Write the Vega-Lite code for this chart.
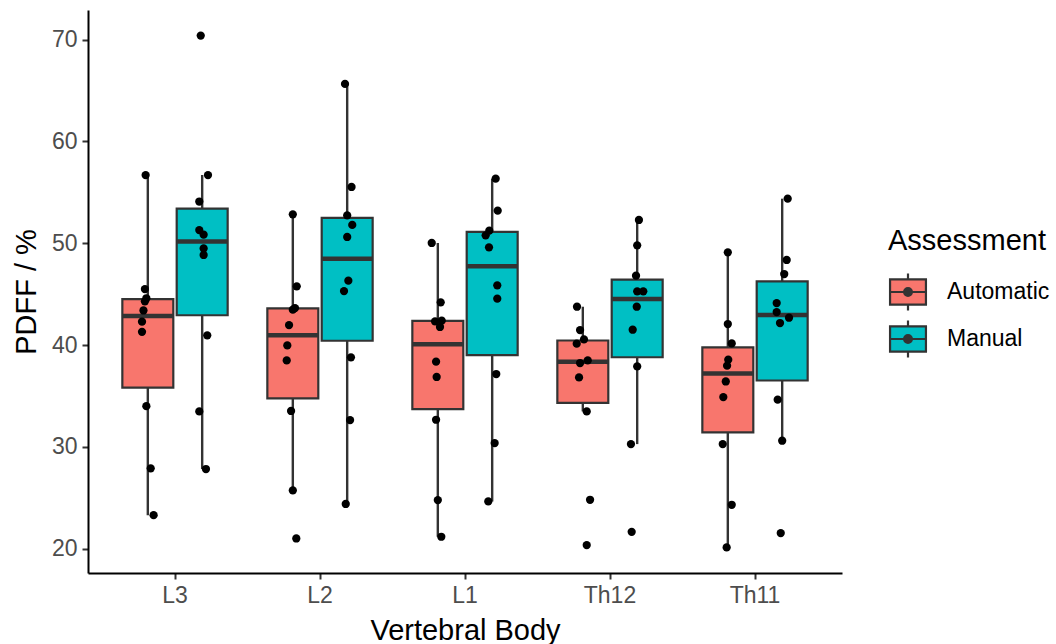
{
  "$schema": "https://vega.github.io/schema/vega-lite/v6.json",
  "width": 754,
  "height": 563,
  "autosize": {"type": "none"},
  "padding": {"left": 88, "top": 10, "right": 214, "bottom": 71},
  "background": "white",
  "data": {"values": [
    {"Vertebra": "L3", "Assessment": "Automatic", "PDFF": 56.7, "jitter": -0.015},
    {"Vertebra": "L3", "Assessment": "Automatic", "PDFF": 45.5, "jitter": -0.02},
    {"Vertebra": "L3", "Assessment": "Automatic", "PDFF": 44.6, "jitter": -0.01},
    {"Vertebra": "L3", "Assessment": "Automatic", "PDFF": 44.3, "jitter": -0.02},
    {"Vertebra": "L3", "Assessment": "Automatic", "PDFF": 43.4, "jitter": -0.03},
    {"Vertebra": "L3", "Assessment": "Automatic", "PDFF": 42.3, "jitter": -0.04},
    {"Vertebra": "L3", "Assessment": "Automatic", "PDFF": 41.3, "jitter": -0.04},
    {"Vertebra": "L3", "Assessment": "Automatic", "PDFF": 34.0, "jitter": -0.01},
    {"Vertebra": "L3", "Assessment": "Automatic", "PDFF": 27.9, "jitter": 0.02},
    {"Vertebra": "L3", "Assessment": "Automatic", "PDFF": 23.3, "jitter": 0.04},
    {"Vertebra": "L3", "Assessment": "Manual", "PDFF": 70.4, "jitter": -0.01},
    {"Vertebra": "L3", "Assessment": "Manual", "PDFF": 56.7, "jitter": 0.04},
    {"Vertebra": "L3", "Assessment": "Manual", "PDFF": 54.1, "jitter": -0.02},
    {"Vertebra": "L3", "Assessment": "Manual", "PDFF": 51.3, "jitter": -0.02},
    {"Vertebra": "L3", "Assessment": "Manual", "PDFF": 50.85, "jitter": 0.01},
    {"Vertebra": "L3", "Assessment": "Manual", "PDFF": 49.5, "jitter": 0.01},
    {"Vertebra": "L3", "Assessment": "Manual", "PDFF": 48.85, "jitter": 0.01},
    {"Vertebra": "L3", "Assessment": "Manual", "PDFF": 40.96, "jitter": 0.035},
    {"Vertebra": "L3", "Assessment": "Manual", "PDFF": 33.49, "jitter": -0.02},
    {"Vertebra": "L3", "Assessment": "Manual", "PDFF": 27.83, "jitter": 0.026},
    {"Vertebra": "L2", "Assessment": "Automatic", "PDFF": 52.84, "jitter": 0.0},
    {"Vertebra": "L2", "Assessment": "Automatic", "PDFF": 45.77, "jitter": 0.027},
    {"Vertebra": "L2", "Assessment": "Automatic", "PDFF": 43.64, "jitter": 0.015},
    {"Vertebra": "L2", "Assessment": "Automatic", "PDFF": 43.48, "jitter": 0.0},
    {"Vertebra": "L2", "Assessment": "Automatic", "PDFF": 41.97, "jitter": -0.026},
    {"Vertebra": "L2", "Assessment": "Automatic", "PDFF": 39.97, "jitter": -0.038},
    {"Vertebra": "L2", "Assessment": "Automatic", "PDFF": 38.5, "jitter": -0.042},
    {"Vertebra": "L2", "Assessment": "Automatic", "PDFF": 33.53, "jitter": -0.012},
    {"Vertebra": "L2", "Assessment": "Automatic", "PDFF": 25.73, "jitter": 0.0},
    {"Vertebra": "L2", "Assessment": "Automatic", "PDFF": 21.01, "jitter": 0.024},
    {"Vertebra": "L2", "Assessment": "Manual", "PDFF": 65.65, "jitter": -0.015},
    {"Vertebra": "L2", "Assessment": "Manual", "PDFF": 55.53, "jitter": 0.03},
    {"Vertebra": "L2", "Assessment": "Manual", "PDFF": 52.74, "jitter": 0.0},
    {"Vertebra": "L2", "Assessment": "Manual", "PDFF": 51.8, "jitter": 0.035},
    {"Vertebra": "L2", "Assessment": "Manual", "PDFF": 50.62, "jitter": 0.0},
    {"Vertebra": "L2", "Assessment": "Manual", "PDFF": 46.33, "jitter": 0.008},
    {"Vertebra": "L2", "Assessment": "Manual", "PDFF": 45.31, "jitter": -0.022},
    {"Vertebra": "L2", "Assessment": "Manual", "PDFF": 38.8, "jitter": 0.026},
    {"Vertebra": "L2", "Assessment": "Manual", "PDFF": 32.64, "jitter": 0.02},
    {"Vertebra": "L2", "Assessment": "Manual", "PDFF": 24.4, "jitter": -0.01},
    {"Vertebra": "L1", "Assessment": "Automatic", "PDFF": 50.03, "jitter": -0.042},
    {"Vertebra": "L1", "Assessment": "Automatic", "PDFF": 44.2, "jitter": 0.02},
    {"Vertebra": "L1", "Assessment": "Automatic", "PDFF": 42.33, "jitter": -0.019},
    {"Vertebra": "L1", "Assessment": "Automatic", "PDFF": 42.4, "jitter": 0.027},
    {"Vertebra": "L1", "Assessment": "Automatic", "PDFF": 41.78, "jitter": 0.015},
    {"Vertebra": "L1", "Assessment": "Automatic", "PDFF": 38.37, "jitter": -0.012},
    {"Vertebra": "L1", "Assessment": "Automatic", "PDFF": 36.87, "jitter": -0.008},
    {"Vertebra": "L1", "Assessment": "Automatic", "PDFF": 32.67, "jitter": -0.012},
    {"Vertebra": "L1", "Assessment": "Automatic", "PDFF": 24.78, "jitter": 0.0},
    {"Vertebra": "L1", "Assessment": "Automatic", "PDFF": 21.18, "jitter": 0.024},
    {"Vertebra": "L1", "Assessment": "Manual", "PDFF": 56.35, "jitter": 0.024},
    {"Vertebra": "L1", "Assessment": "Manual", "PDFF": 53.2, "jitter": 0.038},
    {"Vertebra": "L1", "Assessment": "Manual", "PDFF": 51.24, "jitter": -0.02},
    {"Vertebra": "L1", "Assessment": "Manual", "PDFF": 50.78, "jitter": -0.045},
    {"Vertebra": "L1", "Assessment": "Manual", "PDFF": 49.6, "jitter": -0.022},
    {"Vertebra": "L1", "Assessment": "Manual", "PDFF": 45.87, "jitter": 0.035},
    {"Vertebra": "L1", "Assessment": "Manual", "PDFF": 44.56, "jitter": 0.035},
    {"Vertebra": "L1", "Assessment": "Manual", "PDFF": 37.16, "jitter": 0.028},
    {"Vertebra": "L1", "Assessment": "Manual", "PDFF": 30.38, "jitter": 0.017},
    {"Vertebra": "L1", "Assessment": "Manual", "PDFF": 24.65, "jitter": -0.027},
    {"Vertebra": "Th12", "Assessment": "Automatic", "PDFF": 43.77, "jitter": -0.04},
    {"Vertebra": "Th12", "Assessment": "Automatic", "PDFF": 41.48, "jitter": -0.019},
    {"Vertebra": "Th12", "Assessment": "Automatic", "PDFF": 40.56, "jitter": 0.008},
    {"Vertebra": "Th12", "Assessment": "Automatic", "PDFF": 40.14, "jitter": -0.042},
    {"Vertebra": "Th12", "Assessment": "Automatic", "PDFF": 38.24, "jitter": -0.019},
    {"Vertebra": "Th12", "Assessment": "Automatic", "PDFF": 38.5, "jitter": 0.034},
    {"Vertebra": "Th12", "Assessment": "Automatic", "PDFF": 36.83, "jitter": -0.026},
    {"Vertebra": "Th12", "Assessment": "Automatic", "PDFF": 33.49, "jitter": 0.027},
    {"Vertebra": "Th12", "Assessment": "Automatic", "PDFF": 24.81, "jitter": 0.05},
    {"Vertebra": "Th12", "Assessment": "Automatic", "PDFF": 20.36, "jitter": 0.027},
    {"Vertebra": "Th12", "Assessment": "Manual", "PDFF": 52.29, "jitter": 0.012},
    {"Vertebra": "Th12", "Assessment": "Manual", "PDFF": 49.8, "jitter": 0.0},
    {"Vertebra": "Th12", "Assessment": "Manual", "PDFF": 46.82, "jitter": -0.008},
    {"Vertebra": "Th12", "Assessment": "Manual", "PDFF": 45.28, "jitter": 0.0},
    {"Vertebra": "Th12", "Assessment": "Manual", "PDFF": 45.28, "jitter": 0.042},
    {"Vertebra": "Th12", "Assessment": "Manual", "PDFF": 43.77, "jitter": -0.003},
    {"Vertebra": "Th12", "Assessment": "Manual", "PDFF": 41.51, "jitter": -0.031},
    {"Vertebra": "Th12", "Assessment": "Manual", "PDFF": 37.91, "jitter": 0.0},
    {"Vertebra": "Th12", "Assessment": "Manual", "PDFF": 30.28, "jitter": -0.043},
    {"Vertebra": "Th12", "Assessment": "Manual", "PDFF": 21.66, "jitter": -0.038},
    {"Vertebra": "Th11", "Assessment": "Automatic", "PDFF": 49.11, "jitter": 0.0},
    {"Vertebra": "Th11", "Assessment": "Automatic", "PDFF": 42.07, "jitter": 0.0},
    {"Vertebra": "Th11", "Assessment": "Automatic", "PDFF": 40.17, "jitter": 0.027},
    {"Vertebra": "Th11", "Assessment": "Automatic", "PDFF": 38.57, "jitter": 0.003},
    {"Vertebra": "Th11", "Assessment": "Automatic", "PDFF": 37.98, "jitter": -0.005},
    {"Vertebra": "Th11", "Assessment": "Automatic", "PDFF": 36.43, "jitter": -0.014},
    {"Vertebra": "Th11", "Assessment": "Automatic", "PDFF": 34.9, "jitter": -0.031},
    {"Vertebra": "Th11", "Assessment": "Automatic", "PDFF": 30.28, "jitter": -0.035},
    {"Vertebra": "Th11", "Assessment": "Automatic", "PDFF": 24.32, "jitter": 0.027},
    {"Vertebra": "Th11", "Assessment": "Automatic", "PDFF": 20.13, "jitter": -0.008},
    {"Vertebra": "Th11", "Assessment": "Manual", "PDFF": 54.38, "jitter": 0.038},
    {"Vertebra": "Th11", "Assessment": "Manual", "PDFF": 48.36, "jitter": 0.031},
    {"Vertebra": "Th11", "Assessment": "Manual", "PDFF": 46.98, "jitter": 0.014},
    {"Vertebra": "Th11", "Assessment": "Manual", "PDFF": 44.13, "jitter": -0.038},
    {"Vertebra": "Th11", "Assessment": "Manual", "PDFF": 43.24, "jitter": -0.038},
    {"Vertebra": "Th11", "Assessment": "Manual", "PDFF": 42.69, "jitter": 0.047},
    {"Vertebra": "Th11", "Assessment": "Manual", "PDFF": 42.17, "jitter": -0.015},
    {"Vertebra": "Th11", "Assessment": "Manual", "PDFF": 34.64, "jitter": -0.031},
    {"Vertebra": "Th11", "Assessment": "Manual", "PDFF": 30.61, "jitter": 0.0},
    {"Vertebra": "Th11", "Assessment": "Manual", "PDFF": 21.54, "jitter": -0.01}
  ]},
  "encoding": {
    "x": {
      "field": "Vertebra",
      "type": "nominal",
      "scale": {"domain": ["L3", "L2", "L1", "Th12", "Th11"], "paddingInner": 0, "paddingOuter": 0.1},
      "axis": {"title": "Vertebral Body", "labelAngle": 0, "titlePadding": 9}
    }
  },
  "layer": [
    {
      "transform": [
        {"joinaggregate": [
          {"op": "q1", "field": "PDFF", "as": "q1"},
          {"op": "q3", "field": "PDFF", "as": "q3"},
          {"op": "median", "field": "PDFF", "as": "med"}
        ], "groupby": ["Vertebra", "Assessment"]},
        {"calculate": "datum.q1 - 1.5 * (datum.q3 - datum.q1)", "as": "lof"},
        {"calculate": "datum.q3 + 1.5 * (datum.q3 - datum.q1)", "as": "hif"},
        {"filter": "datum.PDFF >= datum.lof && datum.PDFF <= datum.hif"},
        {"aggregate": [
          {"op": "min", "field": "PDFF", "as": "wlo"},
          {"op": "max", "field": "PDFF", "as": "whi"}
        ], "groupby": ["Vertebra", "Assessment", "q1", "q3", "med"]}
      ],
      "encoding": {
        "xOffset": {"field": "Assessment", "type": "nominal", "scale": {"domain": ["Automatic", "Manual"], "paddingInner": 0.0625, "paddingOuter": 0.365}}
      },
      "layer": [
        {
          "mark": {"type": "rule", "color": "#333333", "strokeWidth": 2.4},
          "encoding": {
            "y": {"field": "wlo", "type": "quantitative", "scale": {"domain": [17.62, 72.91], "nice": false, "zero": false}, "axis": {"title": "PDFF / %", "values": [20, 30, 40, 50, 60, 70], "titlePadding": 10}},
            "y2": {"field": "whi"}
          }
        },
        {
          "mark": {"type": "bar", "stroke": "#333333", "strokeWidth": 2.2},
          "encoding": {
            "y": {"field": "q1", "type": "quantitative", "title": "PDFF / %"},
            "y2": {"field": "q3"},
            "fill": {
              "field": "Assessment",
              "type": "nominal",
              "scale": {"domain": ["Automatic", "Manual"], "range": ["#F8766D", "#00BFC4"]},
              "legend": {
                "title": "Assessment",
                "orient": "none",
                "legendX": 800,
                "legendY": 217,
                "padding": 0,
                "symbolType": "M-0.97,-0.68H0.97V0.68H-0.97Z M-0.97,0H0.97 M0,-0.68V-1 M0,0.68V1 M0.21,0A0.21,0.21,0,1,1,-0.21,0A0.21,0.21,0,1,1,0.21,0Z M0.15,0A0.15,0.15,0,1,1,-0.15,0A0.15,0.15,0,1,1,0.15,0Z M0.09,0A0.09,0.09,0,1,1,-0.09,0A0.09,0.09,0,1,1,0.09,0Z M0.03,0A0.03,0.03,0,1,1,-0.03,0A0.03,0.03,0,1,1,0.03,0Z",
                "symbolSize": 1369,
                "symbolStrokeColor": "#333333",
                "symbolStrokeWidth": 2.2,
                "symbolOpacity": 1,
                "labelFontSize": 23,
                "labelColor": "black",
                "labelOffset": 19,
                "titleFontSize": 29,
                "titleFontWeight": "normal",
                "titleColor": "black",
                "titlePadding": 16,
                "rowPadding": 1
              }
            }
          }
        },
        {
          "mark": {"type": "tick", "color": "#333333", "thickness": 4.5, "size": 51, "opacity": 1},
          "encoding": {
            "y": {"field": "med", "type": "quantitative", "title": "PDFF / %"}
          }
        }
      ]
    },
    {
      "transform": [
        {"calculate": "(datum.Assessment === 'Automatic' ? -0.1875 : 0.1875) + datum.jitter", "as": "offset"}
      ],
      "mark": {"type": "circle", "color": "black", "size": 68, "opacity": 1},
      "encoding": {
        "xOffset": {"field": "offset", "type": "quantitative", "scale": {"domain": [-0.5, 0.5]}},
        "y": {"field": "PDFF", "type": "quantitative", "title": "PDFF / %"}
      }
    }
  ],
  "resolve": {"scale": {"xOffset": "independent"}},
  "config": {
    "font": "Liberation Sans",
    "view": {"stroke": null},
    "axis": {
      "grid": false,
      "domainColor": "black",
      "domainWidth": 2,
      "tickColor": "#333333",
      "tickWidth": 2,
      "tickSize": 6,
      "labelColor": "#4D4D4D",
      "labelFontSize": 23,
      "labelPadding": 5,
      "labelFont": "Liberation Sans",
      "titleFont": "Liberation Sans",
      "titleFontSize": 29,
      "titleFontWeight": "normal",
      "titleColor": "black"
    },
    "legend": {"labelFont": "Liberation Sans", "titleFont": "Liberation Sans"}
  }
}
